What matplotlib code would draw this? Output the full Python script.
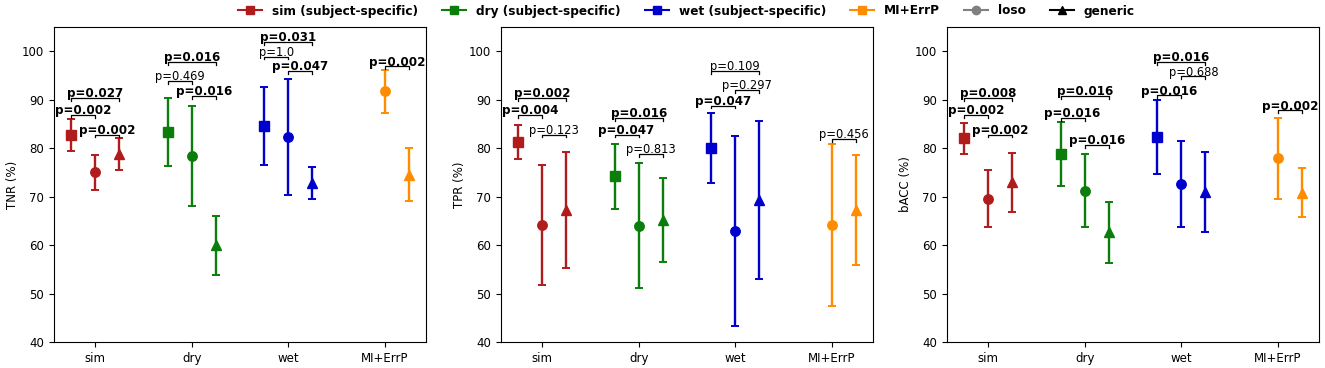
import numpy as np
import matplotlib
matplotlib.use("Agg")
import matplotlib.pyplot as plt
from matplotlib.lines import Line2D

groups = ['sim', 'dry', 'wet', 'MI+ErrP']
colors = ['#b01c1c', '#0a7d0a', '#0000cd', '#ff8c00']
nan = np.nan

# mean and half-width of error bar per group (sim, dry, wet, MI+ErrP)
tnr_ss_mean = [82.7, 83.4, 84.5, nan]
tnr_ss_err = [3.25, 7.0, 8.05, nan]
tnr_loso_mean = [75.0, 78.4, 82.3, 91.7]
tnr_loso_err = [3.55, 10.3, 11.95, 4.4]
tnr_gen_mean = [78.8, 60.0, 72.8, 74.5]
tnr_gen_err = [3.3, 6.1, 3.3, 5.5]

tpr_ss_mean = [81.3, 74.2, 80.1, nan]
tpr_ss_err = [3.5, 6.7, 7.2, nan]
tpr_loso_mean = [64.2, 64.0, 62.9, 64.1]
tpr_loso_err = [12.4, 12.9, 19.6, 16.7]
tpr_gen_mean = [67.2, 65.2, 69.2, 67.2]
tpr_gen_err = [12.0, 8.6, 16.3, 11.3]

bacc_ss_mean = [82.0, 78.8, 82.3, nan]
bacc_ss_err = [3.2, 6.6, 7.6, nan]
bacc_loso_mean = [69.6, 71.2, 72.6, 77.9]
bacc_loso_err = [5.8, 7.55, 8.9, 8.4]
bacc_gen_mean = [73.0, 62.6, 71.0, 70.8]
bacc_gen_err = [6.1, 6.3, 8.2, 5.1]

# significance brackets: (group, pair, p-value text, bracket level)
# pair: 'sl' = subject-specific vs loso, 'lg' = loso vs generic, 'sg' = subject-specific vs generic
tnr_tests = [
    (0, 'sl', '0.002', 86.9), (0, 'lg', '0.002', 82.8), (0, 'sg', '0.027', 90.4),
    (1, 'sl', '0.469', 93.9), (1, 'lg', '0.016', 90.8), (1, 'sg', '0.016', 97.8),
    (2, 'sl', '1.0', 98.9), (2, 'lg', '0.047', 96.0), (2, 'sg', '0.031', 101.9),
    (3, 'lg', '0.002', 96.9),
]
tpr_tests = [
    (0, 'sl', '0.004', 86.9), (0, 'lg', '0.123', 82.8), (0, 'sg', '0.002', 90.4),
    (1, 'sl', '0.047', 82.8), (1, 'lg', '0.813', 78.8), (1, 'sg', '0.016', 86.3),
    (2, 'sl', '0.047', 88.8), (2, 'lg', '0.297', 92.0), (2, 'sg', '0.109', 96.0),
    (3, 'lg', '0.456', 81.9),
]
bacc_tests = [
    (0, 'sl', '0.002', 86.9), (0, 'lg', '0.002', 82.8), (0, 'sg', '0.008', 90.4),
    (1, 'sl', '0.016', 86.3), (1, 'lg', '0.016', 80.7), (1, 'sg', '0.016', 90.8),
    (2, 'sl', '0.016', 90.9), (2, 'lg', '0.688', 94.8), (2, 'sg', '0.016', 97.8),
    (3, 'lg', '0.002', 87.8),
]

panels = [
    ('TNR (%)', tnr_ss_mean, tnr_ss_err, tnr_loso_mean, tnr_loso_err, tnr_gen_mean, tnr_gen_err, tnr_tests),
    ('TPR (%)', tpr_ss_mean, tpr_ss_err, tpr_loso_mean, tpr_loso_err, tpr_gen_mean, tpr_gen_err, tpr_tests),
    ('bACC (%)', bacc_ss_mean, bacc_ss_err, bacc_loso_mean, bacc_loso_err, bacc_gen_mean, bacc_gen_err, bacc_tests),
]

offsets = {'s': -0.25, 'l': 0.0, 'g': 0.25}
markers = {'s': 's', 'l': 'o', 'g': '^'}

W, H = 1325, 368
fig = plt.figure(figsize=(W / 100, H / 100), dpi=100)
lefts = [54, 501, 947]
axw = 372
ax_bottom = (H - 342) / H
ax_h = (342 - 27) / H

for pi, (ylabel, ssm, sse, lm, le, gm, ge, tests) in enumerate(panels):
    ax = fig.add_axes([lefts[pi] / W, ax_bottom, axw / W, ax_h])
    x = np.arange(len(groups))
    for key, m, e in (('s', ssm, sse), ('l', lm, le), ('g', gm, ge)):
        for gi in range(len(groups)):
            if np.isnan(m[gi]):
                continue
            ax.errorbar(x[gi] + offsets[key], m[gi], yerr=e[gi], fmt=markers[key],
                        color=colors[gi], ecolor=colors[gi], markersize=6.8,
                        elinewidth=1.7, capsize=2.8, capthick=1.4)
    for gi, pair, ptxt, lvl in tests:
        x1 = x[gi] + offsets[pair[0]]
        x2 = x[gi] + offsets[pair[1]]
        tick = 0.6
        ax.plot([x1, x1, x2, x2], [lvl - tick, lvl, lvl, lvl - tick], color='black', lw=0.9)
        bold = float(ptxt) < 0.05
        ax.text((x1 + x2) / 2, lvl + 0.15, 'p=' + ptxt, ha='center', va='baseline',
                fontsize=8.6 if bold else 8.3, fontweight='bold' if bold else 'normal')
    ax.set_xlim(-0.425, 3.425)
    ax.set_ylim(40, 105)
    ax.set_yticks([40, 50, 60, 70, 80, 90, 100])
    ax.set_xticks(x)
    ax.set_xticklabels(groups)
    ax.tick_params(labelsize=8.5)
    ax.set_ylabel(ylabel, fontsize=8.5, labelpad=2.0)

handles = [
    Line2D([], [], color=colors[0], marker='s', markersize=6, label='sim (subject-specific)'),
    Line2D([], [], color=colors[1], marker='s', markersize=6, label='dry (subject-specific)'),
    Line2D([], [], color=colors[2], marker='s', markersize=6, label='wet (subject-specific)'),
    Line2D([], [], color=colors[3], marker='s', markersize=6, label='MI+ErrP'),
    Line2D([], [], color='gray', marker='o', markersize=6, label='loso'),
    Line2D([], [], color='black', marker='^', markersize=6, label='generic'),
]
fig.legend(handles=handles, loc='center', bbox_to_anchor=((54 + 1319) / 2 / W, 1 - 11 / H),
           ncol=6, frameon=False, prop={'weight': 'bold', 'size': 8.7})

fig.savefig('out.png', dpi=100)
